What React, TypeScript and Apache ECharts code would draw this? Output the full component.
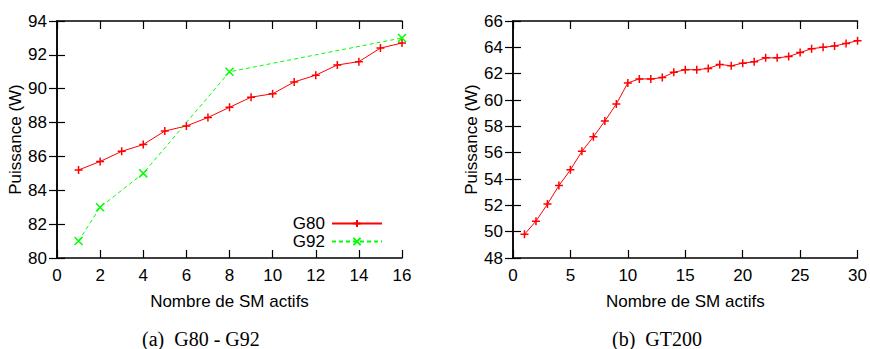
import React, { useEffect, useRef } from "react";
import * as echarts from "echarts";

const g80Counts = [1, 2, 3, 4, 5, 6, 7, 8, 9, 10, 11, 12, 13, 14, 15, 16];
const g80Power = [85.2, 85.7, 86.3, 86.7, 87.5, 87.8, 88.3, 88.9, 89.5, 89.7, 90.4, 90.8, 91.4, 91.6, 92.4, 92.7];
const g92Counts = [1, 2, 4, 8, 16];
const g92Power = [81, 83, 85, 91, 93];
const gt200Counts = [1, 2, 3, 4, 5, 6, 7, 8, 9, 10, 11, 12, 13, 14, 15, 16, 17, 18, 19, 20, 21, 22, 23, 24, 25, 26, 27, 28, 29, 30];
const gt200Power = [49.8, 50.8, 52.1, 53.5, 54.7, 56.1, 57.2, 58.4, 59.7, 61.3, 61.6, 61.6, 61.7, 62.1, 62.3, 62.3, 62.4, 62.7, 62.6, 62.8, 62.9, 63.2, 63.2, 63.3, 63.6, 63.9, 64.0, 64.1, 64.3, 64.5];

const xAxisTitle = "Nombre de SM actifs";
const yAxisTitle = "Puissance (W)";
const captionA = "(a)  G80 - G92";
const captionB = "(b)  GT200";

const FONT = "'Liberation Sans', Arial, sans-serif";
const PLUS = "path://M5 0V10M0 5H10";
const CROSS = "path://M0 0L10 10M10 0L0 10";

function zip(xs: number[], ys: number[]) {
  return xs.map((x, i) => [x, ys[i]]);
}

export default function App() {
  const ref = useRef<HTMLDivElement>(null);
  useEffect(() => {
    if (!ref.current) return;
    const chart = echarts.init(ref.current, null, { renderer: "svg" });
    const axisLine = { show: true, lineStyle: { color: "#000", width: 1.5 } };
    const tickIn = { show: true, inside: true, length: 8, lineStyle: { color: "#000", width: 1.2 } };
    const label = { color: "#000", fontSize: 17, fontFamily: FONT };
    const mkX = (grid: number, min: number, max: number, interval: number, main: boolean) => ({
      type: "value",
      gridIndex: grid,
      min,
      max,
      interval,
      position: main ? "bottom" : "top",
      axisLine,
      axisTick: tickIn,
      splitLine: { show: false },
      axisLabel: main ? { ...label, margin: 9 } : { show: false },
      name: main ? xAxisTitle : "",
      nameLocation: "middle",
      nameGap: 35,
      nameTextStyle: { color: "#000", fontSize: 17, fontFamily: FONT },
    });
    const mkY = (grid: number, min: number, max: number, interval: number, main: boolean) => ({
      type: "value",
      gridIndex: grid,
      min,
      max,
      interval,
      position: main ? "left" : "right",
      axisLine,
      axisTick: tickIn,
      splitLine: { show: false },
      axisLabel: main ? { ...label, margin: 10 } : { show: false },
      name: main ? yAxisTitle : "",
      nameLocation: "middle",
      nameGap: 33,
      nameTextStyle: { color: "#000", fontSize: 17, fontFamily: FONT },
    });
    chart.setOption({
      animation: false,
      backgroundColor: "#fff",
      grid: [
        { left: 57, top: 21, width: 345, height: 237 },
        { left: 513, top: 21, width: 345, height: 237 },
      ],
      xAxis: [
        mkX(0, 0, 16, 2, true),
        mkX(0, 0, 16, 2, false),
        mkX(1, 0, 30, 5, true),
        mkX(1, 0, 30, 5, false),
      ],
      yAxis: [
        mkY(0, 80, 94, 2, true),
        mkY(0, 80, 94, 2, false),
        mkY(1, 48, 66, 2, true),
        mkY(1, 48, 66, 2, false),
      ],
      legend: {
        orient: "vertical",
        align: "right",
        right: 870 - 383,
        top: 215,
        padding: 0,
        itemWidth: 50,
        itemHeight: 9,
        itemGap: 1,
        textStyle: { color: "#000", fontSize: 17, lineHeight: 17, fontFamily: FONT, padding: [0, 2, 0, 0] },
        data: ["G80", "G92"],
      },
      series: [
        {
          name: "G80",
          type: "line",
          xAxisIndex: 0,
          yAxisIndex: 0,
          data: zip(g80Counts, g80Power),
          symbol: PLUS,
          symbolSize: 8,
          showAllSymbol: true,
          lineStyle: { color: "#ff0000", width: 1 },
          itemStyle: { color: "#ff0000", borderColor: "#ff0000", borderWidth: 1.5 },
        },
        {
          name: "G92",
          type: "line",
          xAxisIndex: 0,
          yAxisIndex: 0,
          data: zip(g92Counts, g92Power),
          symbol: CROSS,
          symbolSize: 8,
          lineStyle: { color: "#00ff00", width: 1, type: [4, 3] },
          itemStyle: { color: "#00ff00", borderColor: "#00ff00", borderWidth: 1.5 },
        },
        {
          name: "GT200",
          type: "line",
          xAxisIndex: 2,
          yAxisIndex: 2,
          data: zip(gt200Counts, gt200Power),
          symbol: PLUS,
          symbolSize: 8,
          showAllSymbol: true,
          lineStyle: { color: "#ff0000", width: 1 },
          itemStyle: { color: "#ff0000", borderColor: "#ff0000", borderWidth: 1.5 },
        },
      ],
      graphic: [
        {
          type: "text",
          left: 142,
          top: 329,
          style: { text: captionA, fill: "#000", fontSize: 20, fontFamily: "'Liberation Serif', 'Times New Roman', serif" },
        },
        {
          type: "text",
          left: 612,
          top: 329,
          style: { text: captionB, fill: "#000", fontSize: 20, fontFamily: "'Liberation Serif', 'Times New Roman', serif" },
        },
      ],
    });
    return () => chart.dispose();
  }, []);
  return <div ref={ref} style={{ position: "absolute", left: 0, top: 0, width: 870, height: 349 }} />;
}
